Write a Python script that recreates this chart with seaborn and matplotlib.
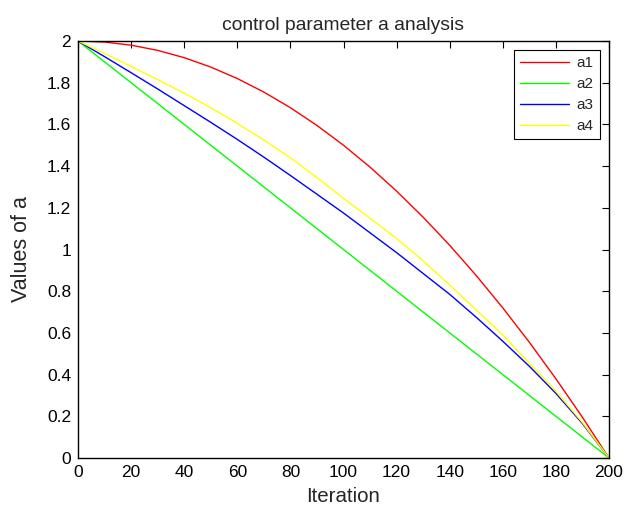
import matplotlib
matplotlib.use("Agg")
import matplotlib.pyplot as plt
import seaborn as sns
import pandas as pd

iterations = [0, 10, 20, 30, 40, 50, 60, 70, 80, 90, 100,
              110, 120, 130, 140, 150, 160, 170, 180, 190, 200]
a1 = [2.0, 1.995, 1.98, 1.955, 1.92, 1.875, 1.82, 1.755, 1.68, 1.595, 1.5,
      1.395, 1.28, 1.155, 1.02, 0.875, 0.72, 0.555, 0.38, 0.195, 0.0]
a2 = [2.0, 1.9, 1.8, 1.7, 1.6, 1.5, 1.4, 1.3, 1.2, 1.1, 1.0,
      0.9, 0.8, 0.7, 0.6, 0.5, 0.4, 0.3, 0.2, 0.1, 0.0]
a3 = [2.0, 1.925, 1.848, 1.77, 1.69, 1.61, 1.528, 1.443, 1.355, 1.265, 1.175,
      1.08, 0.985, 0.885, 0.785, 0.675, 0.56, 0.44, 0.31, 0.165, 0.0]
a4 = [2.0, 1.94, 1.878, 1.815, 1.75, 1.68, 1.605, 1.525, 1.44, 1.345, 1.245,
      1.15, 1.053, 0.945, 0.83, 0.71, 0.59, 0.455, 0.32, 0.17, 0.0]
series_names = ["a1", "a2", "a3", "a4"]
series_colors = ["#ff0000", "#00ff00", "#0000ff", "#ffff00"]
xticks = list(range(0, 201, 20))
yticks = [0, 0.2, 0.4, 0.6, 0.8, 1, 1.2, 1.4, 1.6, 1.8, 2]

rows = []
for name, vals in zip(series_names, [a1, a2, a3, a4]):
    for t, v in zip(iterations, vals):
        rows.append({"Iteration": t, "value": v, "series": name})
df = pd.DataFrame(rows)

sns.set_style("white")
plt.rcParams["font.family"] = ["Liberation Sans", "DejaVu Sans"]

fig = plt.figure(figsize=(6.28, 5.14), dpi=100)
ax = fig.add_axes([78/628, 1 - 458/514, (609 - 78)/628, (458 - 41)/514])

sns.lineplot(data=df, x="Iteration", y="value", hue="series",
             palette=dict(zip(series_names, series_colors)),
             linewidth=1.0, ax=ax, legend=False)

for name, c in zip(series_names, series_colors):
    ax.plot([], [], color=c, linewidth=1.0, label=name)

ax.set_xlim(0, 200)
ax.set_ylim(0, 2)
ax.set_xticks(xticks)
ax.set_yticks(yticks)
ax.set_xticklabels([str(x) for x in xticks])
ax.set_yticklabels([("%g" % y) for y in yticks])
ax.tick_params(direction="in", top=True, right=True, length=5, width=0.8,
               labelsize=12.5, colors="black", pad=5)
for sp in ax.spines.values():
    sp.set_visible(True)
    sp.set_color("black")
    sp.set_linewidth(1.0)

ax.set_xlabel("Iteration", fontsize=14.8, labelpad=5)
ax.set_ylabel("Values of a", fontsize=15.5, labelpad=11)
ax.set_title("control parameter a analysis", fontsize=13.9, pad=8)

leg = ax.legend(loc="upper right", fontsize=11, frameon=True, fancybox=False,
                edgecolor="black", framealpha=1, handlelength=3.2,
                borderaxespad=0.6, labelspacing=0.45, handletextpad=0.5)
leg.get_frame().set_linewidth(0.8)

fig.savefig("out.png", dpi=100)
